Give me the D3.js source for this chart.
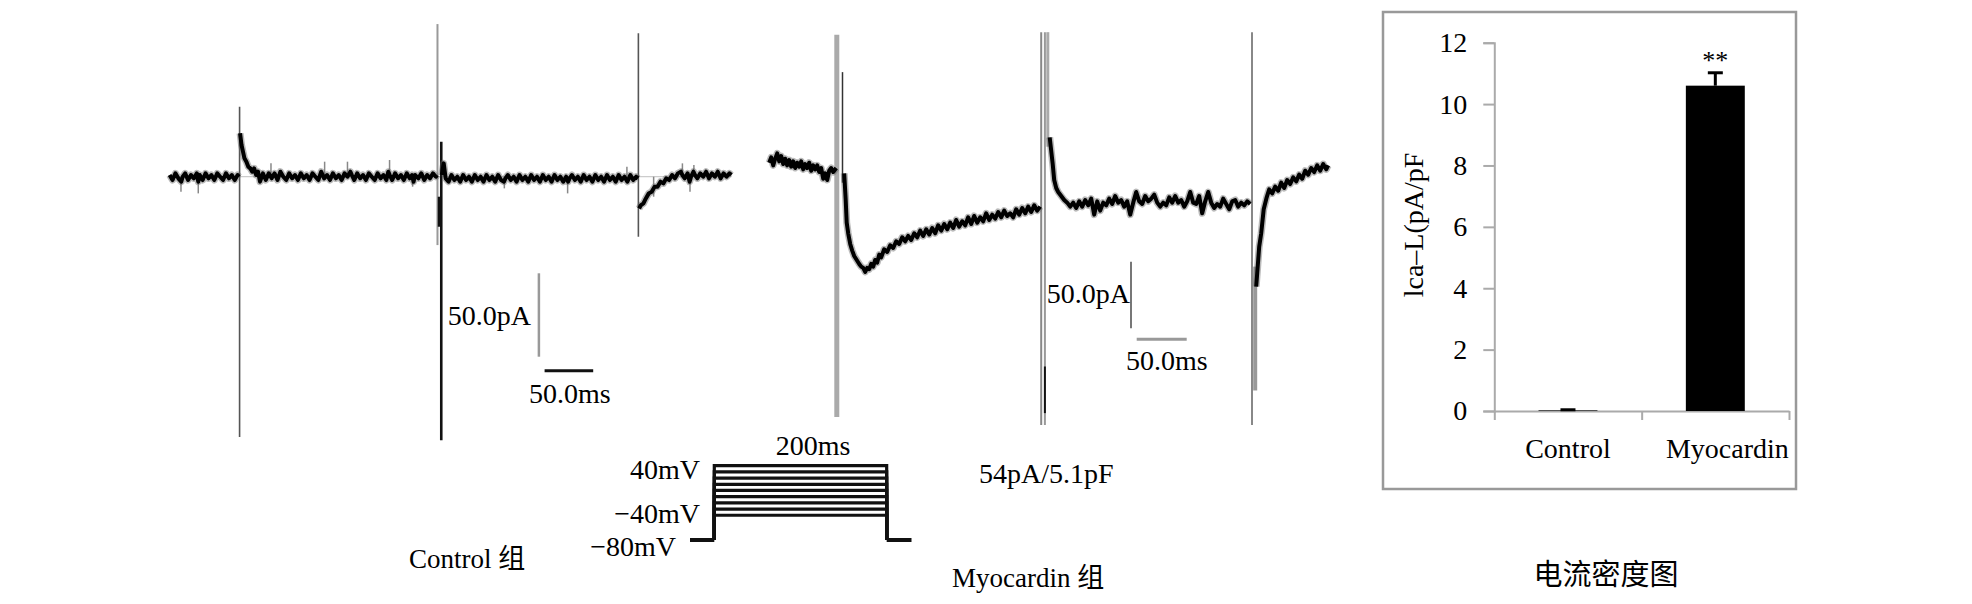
<!DOCTYPE html>
<html>
<head>
<meta charset="utf-8">
<script src="https://cdn.jsdelivr.net/npm/d3@7"></script>
<style>
  body { margin: 0; background: #fff; }
  text { font-family: "Liberation Serif", "Times New Roman", "Noto Sans CJK SC", serif; fill: #000; }
</style>
</head>
<body>
<div id="chart"></div>
<script>
// ---- Control trace, [ms, pA] ----
var ctrlPre = [[0,1],[3,-2],[6,2],[9,-1],[12,-3],[13.5,0],[16,2],[19,-2],[22,1],[25,-1],[28,2],[29.5,-3],[31,1],[34,-2],[37,2],[40,-1],[43,1],[46,-2],[49,2],[52,0],[55,-2],[58,2],[61,-1],[64,1],[67,-2],[70,1],[71.5,0]];
var ctrlStep = [[72.5,26],[74,19],[75.5,15],[77,11],[79,9],[81,6],[83,5],[85,3],[87,5],[89,1],[91,3],[93,-3],[96,2],[99,-2],[102,2],[105,-1],[108,2],[111,-2],[114,3],[117,0],[120,-2],[123,2],[126,-1],[129,1],[132,-2],[135,2],[138,-1],[141,1],[144,-2],[147,2],[150,0],[153,-2],[156,3],[159,-1],[162,1],[165,-2],[168,2],[171,-1],[174,1],[177,-2],[180,2],[183,0],[186,3],[187.5,1],[190,-2],[193,2],[196,-1],[199,1],[202,-2],[205,2],[208,0],[211,-2],[214,2],[217,-1],[220,1],[223,-2],[225,3],[226.5,1],[229,-2],[232,2],[235,-1],[238,1],[241,-2],[244,2],[247,-1],[249.5,1],[251,-3],[252.5,1],[256,-1],[259,2],[262,-2],[265,1],[268,-1],[271,2],[274,0],[275,1]];
var ctrlPost = [[280,1],[282,8],[284,-1],[287,-3],[290,1],[293,-2],[296,0],[299,-3],[302,1],[305,-2],[308,0],[311,-3],[314,1],[317,-2],[320,0],[323,-3],[326,1],[329,-2],[332,0],[335,-3],[338,1],[341,-2],[344,-3],[345.5,-1],[348,1],[351,-2],[354,0],[357,-3],[360,1],[363,-2],[366,0],[369,-3],[372,1],[375,-2],[378,0],[381,-3],[384,1],[387,-2],[390,0],[393,-3],[396,1],[399,-2],[402,0],[405,-3],[408,0],[410,-3],[411.5,-1],[414,1],[417,-2],[420,0],[423,-3],[426,1],[429,-2],[432,0],[435,-3],[438,1],[441,-2],[444,0],[447,-3],[450,1],[453,-2],[456,0],[459,-3],[462,1],[465,-2],[468,0],[471,-3],[474,1],[477,-2],[480,0],[482,-1]];
var ctrlTail = [[483,-19],[485,-17],[487.5,-16],[490,-13],[493,-10],[496,-9],[499,-6],[502,-6],[505,-3],[508,-4],[511,-1],[514,-2],[517,1],[520,-1],[523,2],[526,3],[527.5,1],[530,-1],[533,2],[535,-3],[536.5,0],[539,3],[540.5,1],[543,-1],[546,2],[549,0],[552,3],[555,-1],[558,2],[561,0],[564,3],[567,-1],[570,2],[573,0],[576,2],[578,1]];
// thin noise excursions: [ms, pA]
var ctrlNoise = [[11.7,-9],[29.5,-10],[104.3,8],[159.5,9],[183,9],[226.3,10],[250,-6],[344.4,-7],[409.5,-10],[470.5,6],[498,-12],[527.6,8],[535.4,-9],[539.4,7]];
// stimulus artifacts: [ms, top pA, bottom pA]
var ctrlSpikes = [[72,42,-156],[275.6,91.5,-41],[279.5,21,-158],[277.7,-12,-30],[482.3,86,-36]];

// ---- Myocardin trace, [ms, pA] ----
var myoPre = [[0,3],[2,7],[4,1],[6,6],[8,10],[10,4],[12,8],[14,2],[16,6],[18,1],[20,5],[22,0],[24,4],[26,-1],[28,3],[30,0],[32,4],[34,-2],[36,2],[38,-1],[40,3],[42,-3],[44,1],[46,-2],[48,1],[50,-4],[52,-1],[54,-9],[56,-5],[58,-10],[60,-3],[62,-1],[64,-4],[67,-1]];
var myoStep = [[75,-5],[76.5,-25],[77.5,-42],[79,-50],[81,-58],[83,-63],[85,-67],[87.5,-70],[90,-73],[92,-75],[94,-76],[96,-79],[98,-76],[100,-77],[102,-73],[104,-75],[106,-70],[108,-72],[110,-66],[112,-68],[115,-62],[118,-64],[121,-59],[124,-61],[127,-56],[130,-58],[133,-53],[136,-56],[139,-52],[142,-55],[145,-50],[148,-53],[151,-48],[154,-52],[157,-47],[160,-51],[163,-46],[166,-50],[169,-44],[172,-48],[175,-43],[178,-47],[181,-42],[184,-46],[187,-40],[190,-45],[193,-41],[196,-44],[199,-38],[202,-43],[205,-37],[208,-42],[211,-38],[214,-41],[217,-35],[220,-40],[223,-36],[226,-39],[229,-34],[232,-38],[235,-33],[238,-37],[241,-35],[244,-38],[247,-32],[250,-36],[253,-31],[256,-35],[259,-30],[262,-34],[265,-29],[268,-33],[271,-30]];
var myoPost = [[280.5,22],[282,12],[283.5,2],[285,-10],[287,-16],[289,-19],[292,-22],[295,-25],[298,-27],[301,-30],[304,-27],[307,-31],[310,-26],[313,-30],[316,-25],[319,-29],[322,-24],[325,-36],[328,-26],[331,-33],[334,-27],[337,-29],[340,-24],[343,-28],[346,-22],[349,-27],[352,-25],[355,-30],[358,-26],[361,-36],[364,-27],[367,-19],[370,-26],[373,-28],[376,-22],[379,-26],[382,-24],[385,-21],[388,-27],[391,-30],[394,-27],[397,-29],[400,-23],[403,-27],[406,-22],[409,-27],[412,-25],[415,-30],[418,-26],[421,-19],[424,-27],[427,-28],[430,-22],[433,-35],[436,-26],[439,-19],[442,-27],[445,-31],[448,-28],[451,-30],[454,-24],[457,-28],[460,-32],[463,-26],[466,-25],[469,-30],[472,-27],[475,-29],[478,-26],[481,-28]];
var myoTail = [[487,-90],[488.5,-75],[490,-60],[492,-50],[494.5,-32],[497.5,-23],[500,-17],[503,-20],[506,-15],[509,-18],[512,-12],[515,-16],[518,-10],[521,-13],[524,-8],[527,-11],[530,-6],[533,-9],[536,-3],[539,-6],[542,-1],[545,-4],[548,1],[551,-3],[554,2],[557,-2],[559,1]];
var myoSpikes = [[67.6,99,-188],[73.3,71,-12],[272,101,-194],[275.7,101,-194],[275.7,-150,-185],[278.6,101,15],[482.8,101,-194],[486,-168,-75]];

// ---- voltage protocol ----
var stepLevels = [40, 30, 20, 10, 0, -10, -20, -30, -40]; // mV
var holdLevel = -80;            // mV
var protoTimes = [0, 28.2, 228.2, 257]; // ms: start, step on, step off, end

// ---- current density bar chart ----
var groups = ["Control", "Myocardin"];
var density = [0.02, 10.6];     // pA/pF
var densityErr = [0.02, 0.42];
var yTicks = [0, 2, 4, 6, 8, 10, 12];

var svg = d3.select("#chart").append("svg")
  .attr("width", 1972)
  .attr("height", 604)
  .style("background", "#fff");

var line = function(X, Y) {
  return d3.line().x(d => X(d[0])).y(d => Y(d[1]));
};

function drawTrace(X, Y, segs) {
  var g = svg.append("g");
  segs.forEach(function(s) {
    g.append("path").attr("d", line(X, Y)(s))
      .attr("fill", "none").attr("stroke", "#666").attr("stroke-width", 7)
      .attr("stroke-linejoin", "round").attr("opacity", 0.45);
    g.append("path").attr("d", line(X, Y)(s))
      .attr("fill", "none").attr("stroke", "#000").attr("stroke-width", 4)
      .attr("stroke-linejoin", "round");
  });
}

function drawSpikes(X, Y, spikes, styles) {
  svg.append("g").selectAll("line")
    .data(spikes)
    .enter()
    .append("line")
    .attr("x1", d => X(d[0])).attr("x2", d => X(d[0]))
    .attr("y1", d => Y(d[1])).attr("y2", d => Y(d[2]))
    .attr("stroke", (d, i) => styles[i][0])
    .attr("stroke-width", (d, i) => styles[i][1]);
}

// ================= Control panel =================
var ctrlX = d3.scaleLinear().domain([0, 578]).range([169.6, 731.4]);
var ctrlY = d3.scaleLinear().domain([0, 50]).range([176.7, 93.3]);

svg.append("line")
  .attr("x1", ctrlX(0)).attr("x2", ctrlX(578))
  .attr("y1", ctrlY(0)).attr("y2", ctrlY(0))
  .attr("stroke", "#ccc").attr("stroke-width", 1.2);

drawSpikes(ctrlX, ctrlY, ctrlSpikes,
  [["#555", 1.6], ["#999", 2], ["#111", 2.6], ["#111", 3.5], ["#555", 1.6]]);

svg.append("g").selectAll("line")
  .data(ctrlNoise)
  .enter()
  .append("line")
  .attr("x1", d => ctrlX(d[0])).attr("x2", d => ctrlX(d[0]))
  .attr("y1", ctrlY(0)).attr("y2", d => ctrlY(d[1]))
  .attr("stroke", "#888").attr("stroke-width", 1.5);

drawTrace(ctrlX, ctrlY, [ctrlPre, ctrlStep, ctrlPost, ctrlTail]);

// scale bars
svg.append("line")
  .attr("x1", 538.9).attr("x2", 538.9)
  .attr("y1", 273.3).attr("y2", 273.3 + (ctrlY(0) - ctrlY(50)))
  .attr("stroke", "#999").attr("stroke-width", 2.5);
svg.append("line")
  .attr("x1", 544.6).attr("x2", 544.6 + (ctrlX(50) - ctrlX(0)))
  .attr("y1", 370.7).attr("y2", 370.7)
  .attr("stroke", "#111").attr("stroke-width", 3);
svg.append("text").attr("x", 531).attr("y", 325)
  .attr("text-anchor", "end").style("font-size", "28px").text("50.0pA");
svg.append("text").attr("x", 529).attr("y", 403)
  .style("font-size", "28px").text("50.0ms");

// ================= Myocardin panel =================
var myoX = d3.scaleLinear().domain([0, 559]).range([769.2, 1328.2]);
var myoY = d3.scaleLinear().domain([0, 50]).range([166.7, 100.1]);

drawSpikes(myoX, myoY, myoSpikes,
  [["#aaa", 5], ["#333", 1.5], ["#888", 2], ["#999", 2], ["#111", 2], ["#aaa", 3], ["#888", 2], ["#999", 4]]);
drawTrace(myoX, myoY, [myoPre, myoStep, myoPost, myoTail]);

svg.append("line")
  .attr("x1", 1131).attr("x2", 1131)
  .attr("y1", 261.7).attr("y2", 261.7 + (myoY(0) - myoY(50)))
  .attr("stroke", "#777").attr("stroke-width", 2);
svg.append("line")
  .attr("x1", 1136.7).attr("x2", 1136.7 + (myoX(50) - myoX(0)))
  .attr("y1", 339.3).attr("y2", 339.3)
  .attr("stroke", "#999").attr("stroke-width", 3);
svg.append("text").attr("x", 1130).attr("y", 303)
  .attr("text-anchor", "end").style("font-size", "28px").text("50.0pA");
svg.append("text").attr("x", 1126).attr("y", 370)
  .style("font-size", "28px").text("50.0ms");

// ================= voltage protocol =================
var protoX = d3.scaleLinear().domain([0, 257]).range([690, 911.5]);
var protoY = d3.scaleLinear().domain([-80, 40]).range([540, 465.7]);

svg.append("g").selectAll("path")
  .data(stepLevels)
  .enter()
  .append("path")
  .attr("d", v => "M" + protoX(protoTimes[1]) + "," + protoY(holdLevel) +
    "V" + protoY(v) + "H" + protoX(protoTimes[2]) + "V" + protoY(holdLevel))
  .attr("fill", "none")
  .attr("stroke", "#111")
  .attr("stroke-width", 3.2);
svg.append("path")
  .attr("d", "M" + protoX(protoTimes[0]) + "," + protoY(holdLevel) + "H" + protoX(protoTimes[1]) +
    "M" + protoX(protoTimes[2]) + "," + protoY(holdLevel) + "H" + protoX(protoTimes[3]))
  .attr("stroke", "#111").attr("stroke-width", 4);

svg.append("text").attr("x", 813).attr("y", 455)
  .attr("text-anchor", "middle").style("font-size", "28px").text("200ms");
svg.append("text").attr("x", 700).attr("y", 479)
  .attr("text-anchor", "end").style("font-size", "28px").text("40mV");
svg.append("text").attr("x", 700).attr("y", 523)
  .attr("text-anchor", "end").style("font-size", "28px").text("\u221240mV");
svg.append("text").attr("x", 676).attr("y", 556)
  .attr("text-anchor", "end").style("font-size", "28px").text("\u221280mV");

svg.append("text").attr("x", 979).attr("y", 483)
  .style("font-size", "28px").text("54pA/5.1pF");
svg.append("text").attr("x", 409).attr("y", 568)
  .style("font-size", "27px").text("Control 组");
svg.append("text").attr("x", 952).attr("y", 587)
  .style("font-size", "27px").text("Myocardin 组");

// ================= bar chart =================
svg.append("rect")
  .attr("x", 1383).attr("y", 12)
  .attr("width", 413).attr("height", 477)
  .attr("fill", "none").attr("stroke", "#999").attr("stroke-width", 2.5);

var barY = d3.scaleLinear().domain([0, 12]).range([411, 42.7]);
var barX = d3.scaleBand().domain(groups).range([1494.3, 1789])
  .paddingInner(0.6).paddingOuter(0.3);
var edgeX = d3.scaleLinear().domain([0, 2]).range([1494.3, 1789]);

var yAxis = svg.append("g")
  .attr("transform", "translate(1494.3,0)")
  .call(d3.axisLeft(barY).tickValues(yTicks).tickSize(11).tickPadding(16));
yAxis.select(".domain").attr("stroke", "#aaa").attr("stroke-width", 2);
yAxis.selectAll(".tick line").attr("stroke", "#aaa").attr("stroke-width", 2);
yAxis.selectAll(".tick text")
  .style("font-family", "Liberation Serif, serif")
  .style("font-size", "28px").attr("fill", "#000");

var xAxis = svg.append("g")
  .attr("transform", "translate(0,411)")
  .call(d3.axisBottom(edgeX).tickValues([0, 1, 2]).tickSize(9).tickSizeOuter(0).tickFormat(""));
xAxis.select(".domain").attr("stroke", "#aaa").attr("stroke-width", 2);
xAxis.selectAll(".tick line").attr("stroke", "#aaa").attr("stroke-width", 2);

svg.append("g").selectAll("rect")
  .data(groups)
  .enter()
  .append("rect")
  .attr("x", d => barX(d))
  .attr("width", barX.bandwidth())
  .attr("y", (d, i) => barY(density[i]))
  .attr("height", (d, i) => barY(0) - barY(density[i]))
  .attr("fill", "#000");

// error bars
var errG = svg.append("g");
errG.selectAll("line.v")
  .data(groups)
  .enter()
  .append("line")
  .attr("x1", d => barX(d) + barX.bandwidth() / 2)
  .attr("x2", d => barX(d) + barX.bandwidth() / 2)
  .attr("y1", (d, i) => barY(density[i]))
  .attr("y2", (d, i) => barY(density[i] + densityErr[i]))
  .attr("stroke", "#000").attr("stroke-width", 3);
errG.selectAll("line.c")
  .data(groups)
  .enter()
  .append("line")
  .attr("x1", d => barX(d) + barX.bandwidth() / 2 - 7.5)
  .attr("x2", d => barX(d) + barX.bandwidth() / 2 + 7.5)
  .attr("y1", (d, i) => barY(density[i] + densityErr[i]))
  .attr("y2", (d, i) => barY(density[i] + densityErr[i]))
  .attr("stroke", "#000").attr("stroke-width", 3);

svg.append("text")
  .attr("x", barX("Myocardin") + barX.bandwidth() / 2)
  .attr("y", 69)
  .attr("text-anchor", "middle")
  .style("font-size", "26px")
  .text("**");

svg.append("g").selectAll("text")
  .data(groups)
  .enter()
  .append("text")
  .attr("x", d => barX(d) + barX.bandwidth() / 2)
  .attr("dx", (d, i) => i === 1 ? 12 : 0)
  .attr("y", 458)
  .attr("text-anchor", "middle")
  .style("font-size", "28px")
  .text(d => d);

svg.append("text")
  .attr("transform", "translate(1423,225) rotate(-90)")
  .attr("text-anchor", "middle")
  .style("font-size", "28px")
  .text("lca\u2013L(pA/pF");

svg.append("text")
  .attr("x", 1606).attr("y", 585)
  .attr("text-anchor", "middle")
  .style("font-family", "Noto Sans CJK SC, sans-serif")
  .style("font-size", "29px")
  .text("电流密度图");
</script>
</body>
</html>
